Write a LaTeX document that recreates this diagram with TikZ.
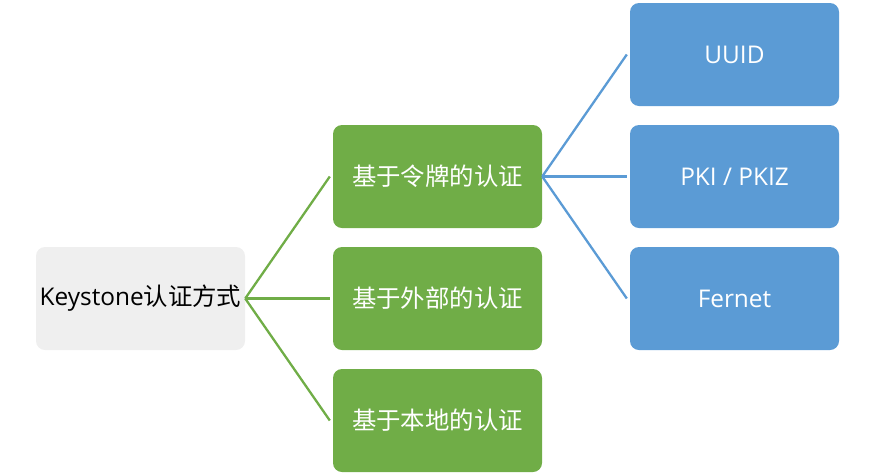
\documentclass[tikz,border=0pt]{standalone}
\usepackage{fontspec}
\setmainfont{Open Sans}
\newfontfamily\cjk{Noto Sans CJK SC}
\usetikzlibrary{calc}
\definecolor{rootgray}{HTML}{EFEFEF}
\definecolor{leafgreen}{HTML}{70AD47}
\definecolor{leafblue}{HTML}{5B9BD5}
\tikzset{
  box/.style={rounded corners=9pt, minimum width=209pt, minimum height=103pt, inner sep=0pt, font=\fontsize{24.4}{28}\selectfont},
  rootbox/.style={box, fill=rootgray, text=black},
  greenbox/.style={box, fill=leafgreen, text=white},
  bluebox/.style={box, fill=leafblue, text=white},
  greenline/.style={draw=leafgreen, line width=2.3pt},
  blueline/.style={draw=leafblue, line width=2.3pt},
}
\begin{document}
\begin{tikzpicture}[x=1pt,y=-1pt]
\useasboundingbox (0,0) rectangle (874,475);
\node[rootbox] (root) at (140.5,298.5) {Keystone{\cjk 认证方式}};
\node[greenbox] (g1) at (437.5,176.5) {\cjk 基于令牌的认证};
\node[greenbox] (g2) at (437.5,298.5) {\cjk 基于外部的认证};
\node[greenbox] (g3) at (437.5,420.5) {\cjk 基于本地的认证};
\node[bluebox] (b1) at (734.5,54.5) {UUID};
\node[bluebox] (b2) at (734.5,176.5) {PKI / PKIZ};
\node[bluebox] (b3) at (734.5,298.5) {Fernet};
\draw[greenline] (root.east) -- ([xshift=-3pt]g1.west);
\draw[greenline] (root.east) -- ([xshift=-3pt]g2.west);
\draw[greenline] (root.east) -- ([xshift=-3pt]g3.west);
\draw[blueline] (g1.east) -- ([xshift=-3pt]b1.west);
\draw[blueline] (g1.east) -- ([xshift=-3pt]b2.west);
\draw[blueline] (g1.east) -- ([xshift=-3pt]b3.west);
\end{tikzpicture}
\end{document}
